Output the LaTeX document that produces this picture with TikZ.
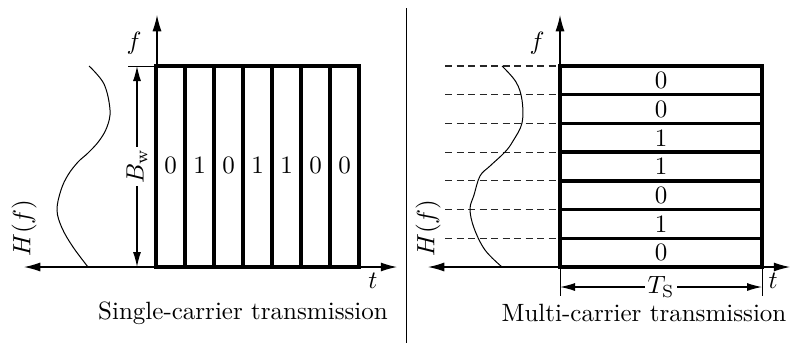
\documentclass[tikz,border=0pt]{standalone}
\usetikzlibrary{arrows.meta}
\begin{document}
\begin{tikzpicture}[x=0.4pt,y=-0.4pt,
  cell/.style={line width=1.4pt},
  axisline/.style={line width=0.45pt},
  axtip/.style={-{Latex[length=6.5pt,width=3.6pt]}},
  axtips/.style={{Latex[length=6.5pt,width=3.6pt]}-{Latex[length=6.5pt,width=3.6pt]}},
  dimline/.style={line width=0.45pt,{Latex[length=6pt,width=3.2pt]}-{Latex[length=6pt,width=3.2pt]}},
  thin/.style={line width=0.4pt},
  guide/.style={line width=0.45pt,dash pattern=on 2.9pt off 1.7pt,black!85},
  lab/.style={inner sep=1pt,font=\normalsize},
  digit/.style={inner sep=0pt}]
\useasboundingbox (0,0) rectangle (790,347);
% ---------- left panel ----------
\coordinate (LO) at (157,267);
\coordinate (LT) at (157,15);
\coordinate (LL) at (24,267);
\coordinate (LR) at (397,267);
\foreach \b [count=\i from 0] in {0,1,0,1,1,0,0}{
  \draw[cell] (156+29*\i,66) rectangle (185+29*\i,267);
  \node[digit] (ld\i) at (170.5+29*\i,165) {\b};
}
\draw[axisline,axtip] (LO) -- (LT);
\draw[axisline,axtips] (LL) -- (LR);
\node[lab] (lf) at (134,43) {$f$};
\node[lab] (lt) at (373,281) {$t$};
\coordinate (BwT) at (137,66);
\coordinate (BwB) at (137,267);
\coordinate (BwTickL) at (128,66);
\coordinate (BwTickR) at (156,66);
\draw[thin] (BwTickL) -- (BwTickR);
\draw[dimline] (BwT) -- node[fill=white,inner sep=1pt,rotate=90] (bw) {$B_{\mathrm{w}}$} (BwB);
\node[lab,rotate=90] (lh) at (24,228) {$H(f)$};
\draw[thin] plot[smooth,tension=0.6] coordinates {(89,66) (104,84) (110,110) (107,127) (99,141) (88,153) (78,162) (68,175) (61,190) (57,210) (62,228) (73,247) (88,267)};
\node[lab] (lcap) at (243,313) {Single-carrier transmission};
% ---------- divider ----------
\coordinate (DT) at (406,8);
\coordinate (DB) at (406,343);
\draw[thin] (DT) -- (DB);
% ---------- right panel ----------
\coordinate (RO) at (560,267);
\coordinate (RT) at (560,15);
\coordinate (RL) at (428,267);
\coordinate (RR) at (790,267);
\foreach \b [count=\i from 0] in {0,0,1,1,0,1,0}{
  \draw[cell] (560,66+28.714*\i) rectangle (762,94.714+28.714*\i);
  \node[digit] (rd\i) at (661,80.5+28.714*\i) {\b};
  \coordinate (gs\i) at (445,66+28.714*\i);
  \coordinate (ge\i) at (560,66+28.714*\i);
  \draw[guide] (gs\i) -- (ge\i);
}
\draw[axisline,axtip] (RO) -- (RT);
\draw[axisline,axtips] (RL) -- (RR);
\node[lab] (rf) at (537,43) {$f$};
\node[lab] (rt) at (773,281) {$t$};
\node[lab,rotate=90] (rh) at (428,228) {$H(f)$};
\draw[thin] plot[smooth,tension=0.6] coordinates {(502,66) (516,82) (522,100) (522,123) (513,141) (505,152) (490,166) (480,176) (474,195) (470,209) (474,228) (485,250) (502,267)};
\coordinate (TsL) at (560,287);
\coordinate (TsR) at (762,287);
\coordinate (TkL) at (560,296);
\coordinate (TkR) at (762,296);
\draw[thin] (RO) -- (TkL);
\draw[thin] (762,267) -- (TkR);
\draw[dimline] (TsL) -- node[fill=white,inner sep=1pt] (ts) {$T_{\mathrm{S}}$} (TsR);
\node[lab] (rcap) at (644,313) {Multi-carrier transmission};
\end{tikzpicture}
\end{document}
